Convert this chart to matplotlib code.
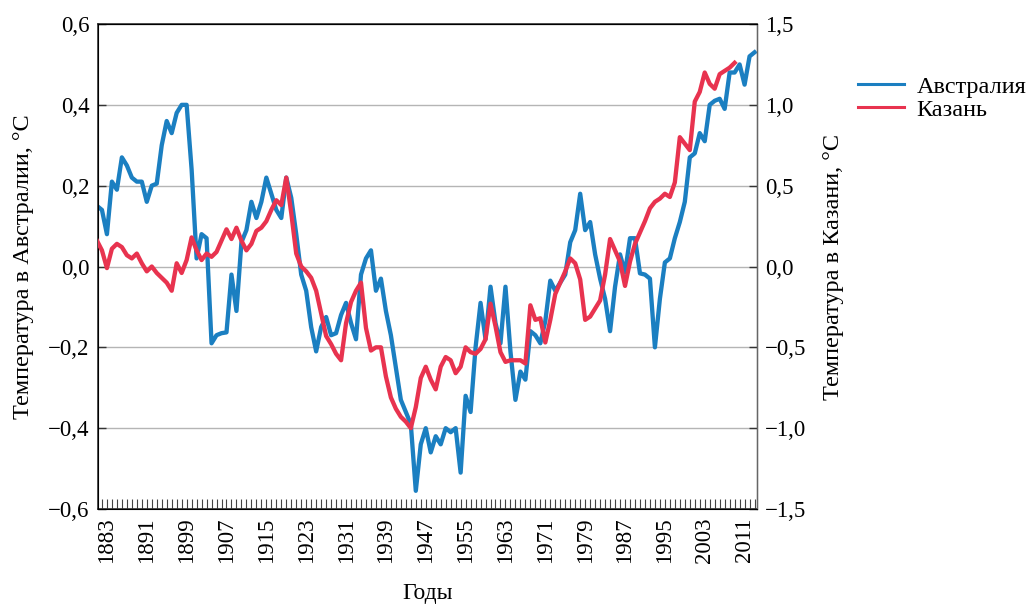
import matplotlib
matplotlib.use("Agg")
import matplotlib.pyplot as plt
import numpy as np
from matplotlib.lines import Line2D

plt.rcParams['font.family'] = ['Liberation Serif', 'DejaVu Serif']

# Данные: аномалии температуры по годам
years_aus = np.arange(1881, 2014)
temp_aus = [
    0.15, 0.14, 0.08, 0.21, 0.19, 0.27, 0.25, 0.22, 0.21, 0.21,   # 1881-1890
    0.16, 0.20, 0.205, 0.30, 0.36, 0.33, 0.38, 0.40, 0.40, 0.24,  # 1891-1900
    0.02, 0.08, 0.07, -0.19, -0.17, -0.165, -0.163, -0.02, -0.11, 0.06,  # 1901-1910
    0.09, 0.16, 0.12, 0.16, 0.22, 0.18, 0.14, 0.12, 0.22, 0.17,  # 1911-1920
    0.08, -0.02, -0.06, -0.15, -0.21, -0.15, -0.125, -0.17, -0.165, -0.12,  # 1921-1930
    -0.09, -0.14, -0.18, -0.02, 0.02, 0.04, -0.06, -0.03, -0.11, -0.17,  # 1931-1940
    -0.25, -0.33, -0.36, -0.39, -0.555, -0.44, -0.40, -0.46, -0.42, -0.44,  # 1941-1950
    -0.40, -0.41, -0.40, -0.51, -0.32, -0.36, -0.20, -0.09, -0.18, -0.05,  # 1951-1960
    -0.14, -0.19, -0.05, -0.21, -0.33, -0.26, -0.28, -0.16, -0.17, -0.19,  # 1961-1970
    -0.135, -0.035, -0.06, -0.04, -0.02, 0.06, 0.09, 0.18, 0.09, 0.11,  # 1971-1980
    0.03, -0.03, -0.08, -0.16, -0.05, 0.03, -0.015, 0.07, 0.07, -0.017,  # 1981-1990
    -0.02, -0.03, -0.20, -0.08, 0.01, 0.02, 0.07, 0.11, 0.16, 0.27,  # 1991-2000
    0.28, 0.33, 0.31, 0.40, 0.41, 0.415, 0.39, 0.48, 0.48, 0.50,  # 2001-2010
    0.45, 0.52, 0.53,  # 2011-2013
]

years_kaz = np.arange(1881, 2010)
temp_kaz = [
    0.16, 0.10, -0.01, 0.11, 0.14, 0.12, 0.07, 0.05, 0.08, 0.02,  # 1881-1890
    -0.03, 0.0, -0.04, -0.07, -0.10, -0.15, 0.02, -0.04, 0.04, 0.18,  # 1891-1900
    0.10, 0.04, 0.08, 0.06, 0.09, 0.16, 0.23, 0.17, 0.24, 0.16,  # 1901-1910
    0.10, 0.14, 0.22, 0.24, 0.28, 0.35, 0.41, 0.38, 0.55, 0.33,  # 1911-1920
    0.08, 0.0, -0.03, -0.07, -0.15, -0.29, -0.43, -0.48, -0.54, -0.58,  # 1921-1930
    -0.35, -0.22, -0.15, -0.10, -0.38, -0.52, -0.50, -0.50, -0.68, -0.81,  # 1931-1940
    -0.88, -0.93, -0.96, -1.0, -0.87, -0.69, -0.62, -0.70, -0.76, -0.62,  # 1941-1950
    -0.56, -0.58, -0.66, -0.62, -0.50, -0.53, -0.54, -0.51, -0.45, -0.23,  # 1951-1960
    -0.37, -0.53, -0.59, -0.58, -0.58, -0.58, -0.60, -0.24, -0.33, -0.32,  # 1961-1970
    -0.47, -0.33, -0.17, -0.10, -0.03, 0.05, 0.02, -0.08, -0.33, -0.31,  # 1971-1980
    -0.26, -0.21, -0.05, 0.17, 0.10, 0.03, -0.12, 0.03, 0.14, 0.21,  # 1981-1990
    0.28, 0.36, 0.40, 0.42, 0.45, 0.43, 0.52, 0.80, 0.76, 0.72,  # 1991-2000
    1.02, 1.08, 1.20, 1.13, 1.10, 1.19, 1.21, 1.23, 1.26,  # 2001-2009
]

left_ticks = [-0.6, -0.4, -0.2, 0.0, 0.2, 0.4, 0.6]
left_labels = ['\u22120,6', '\u22120,4', '\u22120,2', '0,0', '0,2', '0,4', '0,6']
right_ticks = [-1.5, -1.0, -0.5, 0.0, 0.5, 1.0, 1.5]
right_labels = ['\u22121,5', '\u22121,0', '\u22120,5', '0,0', '0,5', '1,0', '1,5']
year_labels = list(range(1883, 2012, 8))

blue = '#1b7fc1'
red = '#e8334f'

fig = plt.figure(figsize=(10.29, 6.05), dpi=100)
ax = fig.add_axes([0.0952, 0.1587, 0.6405, 0.8016])
ax2 = ax.twinx()

ax.plot(years_aus, temp_aus, color=blue, lw=3.1, solid_joinstyle='round', zorder=3)
ax2.plot(years_kaz, temp_kaz, color=red, lw=3.1, solid_joinstyle='round', zorder=3)

ax.set_xlim(1881.2, 2013.5)
ax.set_ylim(-0.6, 0.6)
ax2.set_ylim(-1.5, 1.5)

ax.set_yticks(left_ticks)
ax.set_yticklabels(left_labels, fontsize=16.5)
ax2.set_yticks(right_ticks)
ax2.set_yticklabels(right_labels, fontsize=16.5)

ax.set_xticks(year_labels)
ax.set_xticklabels([str(y) for y in year_labels], rotation=90, fontsize=16.5)
ax.set_xticks(np.arange(1882, 2014), minor=True)

ax.grid(axis='y', color='#b5b5b5', lw=1.0)
ax.set_axisbelow(True)

ax.tick_params(axis='x', which='both', direction='in', length=7, width=0.8,
               color='#444444', pad=6)
ax.tick_params(axis='y', direction='in', length=6, width=1.0, color='#333333', pad=6)
ax2.tick_params(axis='y', direction='in', length=6, width=1.0, color='#333333', pad=6)

for sp in ['left', 'bottom', 'top']:
    ax.spines[sp].set_color('#333333')
    ax.spines[sp].set_linewidth(1.2)
ax2.spines['right'].set_color('#666666')
ax2.spines['right'].set_linewidth(1.0)

ax.set_xlabel('Годы', fontsize=17, labelpad=14)
ax.set_ylabel('Температура в Австралии, °C', fontsize=17.5, labelpad=10)
ax2.set_ylabel('Температура в Казани, °C', fontsize=17.5, labelpad=12)

handles = [Line2D([], [], color=blue, lw=2.2), Line2D([], [], color=red, lw=2.2)]
fig.legend(handles, ['Австралия', 'Казань'], loc='upper left',
           bbox_to_anchor=(0.834, 0.875), frameon=False, fontsize=17.5,
           handlelength=1.9, handletextpad=0.5, labelspacing=0.05,
           borderaxespad=0, borderpad=0)

fig.savefig('out.png', dpi=100)
